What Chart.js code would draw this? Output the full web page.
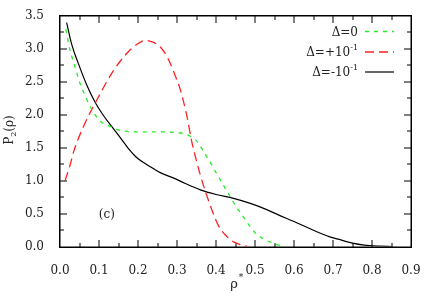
<!DOCTYPE html>
<html>
<head>
<meta charset="utf-8">
<script src="https://cdn.jsdelivr.net/npm/chart.js@4.4.1/dist/chart.umd.min.js"></script>
<style>
  html, body { margin: 0; padding: 0; background: #fff; }
  #wrap { width: 436px; height: 305px; }
</style>
</head>
<body>
<div id="wrap"><canvas id="chart" width="436" height="305"></canvas></div>
<script>
// P2(rho) curves
const zeroX = [0.015, 0.025, 0.04, 0.05, 0.065, 0.08, 0.09, 0.11, 0.13, 0.15, 0.2, 0.25, 0.3, 0.32, 0.335, 0.355, 0.37, 0.385, 0.405, 0.42, 0.435, 0.45, 0.47, 0.485, 0.5, 0.515, 0.53, 0.55, 0.565, 0.58];
const zeroY = [3.3, 3.0, 2.7, 2.5, 2.28, 2.1, 2.0, 1.87, 1.82, 1.77, 1.74, 1.74, 1.73, 1.71, 1.67, 1.57, 1.42, 1.28, 1.07, 0.92, 0.77, 0.62, 0.45, 0.32, 0.21, 0.14, 0.09, 0.04, 0.015, 0.0];

const plusX = [0.013, 0.025, 0.035, 0.06, 0.094, 0.137, 0.171, 0.195, 0.218, 0.24, 0.257, 0.27, 0.282, 0.295, 0.308, 0.325, 0.338, 0.35, 0.36, 0.372, 0.393, 0.406, 0.428, 0.445, 0.462, 0.48];
const plusY = [1.0, 1.22, 1.44, 1.82, 2.22, 2.67, 2.93, 3.06, 3.13, 3.1, 3.03, 2.93, 2.79, 2.6, 2.39, 1.99, 1.59, 1.3, 1.08, 0.85, 0.5, 0.32, 0.15, 0.07, 0.03, 0.0];

const minusX = [0.017, 0.03, 0.047, 0.068, 0.09, 0.11, 0.133, 0.155, 0.175, 0.195, 0.218, 0.24, 0.261, 0.295, 0.32, 0.36, 0.4, 0.445, 0.49, 0.53, 0.56, 0.6, 0.63, 0.66, 0.69, 0.72, 0.75, 0.78, 0.82, 0.85];
const minusY = [3.4, 3.07, 2.78, 2.46, 2.19, 2.0, 1.82, 1.65, 1.49, 1.36, 1.26, 1.18, 1.11, 1.03, 0.96, 0.86, 0.79, 0.73, 0.65, 0.56, 0.48, 0.38, 0.3, 0.22, 0.15, 0.1, 0.05, 0.02, 0.005, 0.0];

const xTicks = [0, 0.1, 0.2, 0.3, 0.4, 0.5, 0.6, 0.7, 0.8, 0.9];
const yTicks = [0, 0.5, 1.0, 1.5, 2.0, 2.5, 3.0, 3.5];

const FONT = "'DejaVu Serif', serif";
const TXT = '#222';

function pts(xs, ys) {
    return xs.map((x, i) => ({ x: x, y: ys[i] }));
}

// box and inward ticks, drawn before the curves
const frame = {
    id: 'frame',
    beforeDatasetsDraw(chart) {
        const c = chart.ctx;
        const xs = chart.scales.x;
        const ys = chart.scales.y;
        const L = Math.round(xs.getPixelForValue(0));
        const R = Math.round(xs.getPixelForValue(0.9));
        const T = Math.round(ys.getPixelForValue(3.5));
        const B = Math.round(ys.getPixelForValue(0));
        c.save();
        c.fillStyle = '#000';
        c.fillRect(L - 1, T - 1, R - L + 2, 1.5);
        c.fillRect(L - 1, B - 0.5, R - L + 2, 1.5);
        c.fillRect(L - 1, T - 1, 1.5, B - T + 2);
        c.fillRect(R - 0.5, T - 1, 1.5, B - T + 2);
        for (let k = 1; k < 18; k++) {
            const px = Math.round(xs.getPixelForValue(k * 0.05));
            const len = k % 2 === 0 ? 7 : 4;
            c.fillRect(px - 0.5, B - len, 1, len);
            c.fillRect(px - 0.5, T, 1, len);
        }
        for (let k = 1; k < 14; k++) {
            const py = Math.round(ys.getPixelForValue(k * 0.25));
            const len = k % 2 === 0 ? 7 : 4;
            c.fillRect(L, py - 0.5, len, 1);
            c.fillRect(R - len, py - 0.5, len, 1);
        }
        c.restore();
    }
};

// titles, panel label, legend
const labels = {
    id: 'labels',
    afterDraw(chart) {
        const c = chart.ctx;
        const xs = chart.scales.x;
        const ys = chart.scales.y;
        c.save();
        c.fillStyle = TXT;
        c.textBaseline = 'alphabetic';

        // x title rho*
        c.font = '13px ' + FONT;
        c.textAlign = 'center';
        c.fillText('ρ', 234, 288);
        c.font = '9px ' + FONT;
        c.fillText('*', 241, 280);

        // y title P2(rho)
        c.save();
        c.translate(13, 130);
        c.rotate(-Math.PI / 2);
        c.textAlign = 'left';
        c.font = '12px ' + FONT;
        const w1 = c.measureText('P').width;
        c.font = '8px ' + FONT;
        const w2 = c.measureText('2').width;
        c.font = '12px ' + FONT;
        const w3 = c.measureText('(ρ)').width;
        const x0 = -(w1 + w2 + w3) / 2;
        c.fillText('P', x0, 0);
        c.font = '8px ' + FONT;
        c.fillText('2', x0 + w1, 3);
        c.font = '12px ' + FONT;
        c.fillText('(ρ)', x0 + w1 + w2, 0);
        c.restore();

        // panel label
        c.font = '12px ' + FONT;
        c.textAlign = 'center';
        c.fillText('(c)', xs.getPixelForValue(0.12), ys.getPixelForValue(0.5) + 4);

        // legend: text right-aligned, sample line on the right
        const rows = [
            { main: 'Δ=0', sup: '', y: 31.5 },
            { main: 'Δ=+10', sup: '-1', y: 52 },
            { main: 'Δ=-10', sup: '-1', y: 72 }
        ];
        rows.forEach((r, i) => {
            const ds = chart.data.datasets[i];
            c.font = '8px ' + FONT;
            const sw = r.sup ? c.measureText(r.sup).width : 0;
            const right = 358;
            c.textAlign = 'right';
            if (r.sup) {
                c.fillText(r.sup, right, r.y - 2);
            }
            c.font = '12px ' + FONT;
            c.fillText(r.main, right - sw, r.y + 4);

            c.beginPath();
            c.strokeStyle = ds.borderColor;
            c.lineWidth = ds.borderWidth;
            c.setLineDash(ds.borderDash || []);
            c.moveTo(365, r.y);
            c.lineTo(394, r.y);
            c.stroke();
            c.setLineDash([]);
        });
        c.restore();
    }
};

new Chart(document.getElementById('chart'), {
    type: 'line',
    data: {
        datasets: [
            { label: 'Δ=0', data: pts(zeroX, zeroY), borderColor: '#22ee22', borderWidth: 1.3, borderDash: [4, 5] },
            { label: 'Δ=+10^-1', data: pts(plusX, plusY), borderColor: '#ff2020', borderWidth: 1.3, borderDash: [9, 5] },
            { label: 'Δ=-10^-1', data: pts(minusX, minusY), borderColor: '#000', borderWidth: 1.2 }
        ]
    },
    options: {
        responsive: false,
        animation: false,
        events: [],
        layout: { padding: { left: 0, top: 16, right: 25, bottom: 0 } },
        elements: {
            point: { radius: 0 },
            line: { cubicInterpolationMode: 'monotone', fill: false }
        },
        plugins: {
            legend: { display: false },
            tooltip: { enabled: false }
        },
        scales: {
            x: {
                type: 'linear',
                min: 0, max: 0.9,
                afterBuildTicks: s => { s.ticks = xTicks.map(v => ({ value: v })); },
                afterFit: s => { s.height = 58.5; },
                grid: { display: false },
                border: { display: false },
                ticks: {
                    padding: 9,
                    color: TXT,
                    font: { family: FONT, size: 12 },
                    maxRotation: 0,
                    callback: v => v.toFixed(1)
                }
            },
            y: {
                type: 'linear',
                min: 0, max: 3.5,
                afterBuildTicks: s => { s.ticks = yTicks.map(v => ({ value: v })); },
                afterFit: s => { s.width = 60; },
                grid: { display: false },
                border: { display: false },
                ticks: {
                    padding: 8,
                    color: TXT,
                    font: { family: FONT, size: 12 },
                    callback: v => v.toFixed(1)
                }
            }
        }
    },
    plugins: [frame, labels]
});
</script>
</body>
</html>
